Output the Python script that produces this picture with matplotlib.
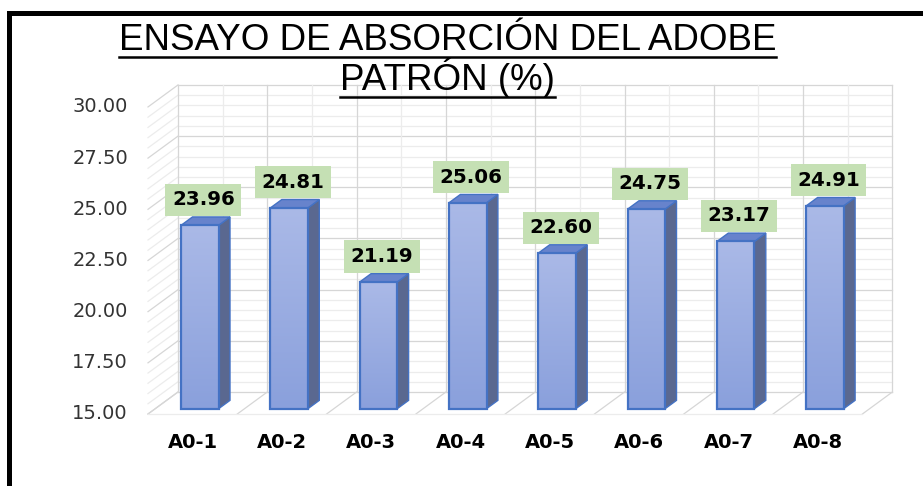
import matplotlib
matplotlib.use('Agg')
import numpy as np
import matplotlib.pyplot as plt
from matplotlib.patches import Polygon, Rectangle
from matplotlib.lines import Line2D
from matplotlib.colors import LinearSegmentedColormap

# --- DATA ---
categories = ['A0-1', 'A0-2', 'A0-3', 'A0-4', 'A0-5', 'A0-6', 'A0-7', 'A0-8']
absorcion = [23.96, 24.81, 21.19, 25.06, 22.60, 24.75, 23.17, 24.91]
y_ticks = [15.0, 17.5, 20.0, 22.5, 25.0, 27.5, 30.0]
title_lines = ['ENSAYO DE ABSORCIÓN DEL ADOBE', 'PATRÓN (%)']

Y_MIN, Y_MAX = 15.0, 30.0
DX, DY = 0.336, 1.075          # depth projection of the 3D floor (data units)
Z0, Z1 = 0.24, 0.62            # bar front / back depth
HALF_W = 0.21

FRONT_TOP, FRONT_BOT = '#aab9e7', '#8aa0dc'
SIDE_COL = '#5a6890'
TOP_COL = '#6783cc'
EDGE_COL = '#4472c4'
LABEL_BG = '#c5e0b4'
GRID_MAJOR, GRID_MINOR = '#d6d6d6', '#ececec'

fig = plt.figure(figsize=(9.23, 4.86), dpi=100, facecolor='white')
ax = fig.add_axes([0, 0, 1, 1])
ax.set_autoscale_on(False)
ax.set_xlim(-2.1573, 8.1786)
ax.set_ylim(11.4826, 35.2247)
ax.axis('off')

n = len(categories)
x_left, x_right = -0.5, n - 0.5

# --- walls / gridlines ---
grid_vals = np.arange(Y_MIN, Y_MAX + 0.01, 0.5)
for v in grid_vals:
    major = abs((v - Y_MIN) % 2.5) < 1e-6
    col = GRID_MAJOR if major else GRID_MINOR
    # back wall horizontal
    ax.plot([x_left + DX, x_right + DX], [v + DY, v + DY], color=col, lw=0.9, zorder=1)
    # side wall diagonal
    ax.plot([x_left, x_left + DX], [v, v + DY], color=col, lw=0.9, zorder=1)
for k in range(2 * n + 1):
    xv = x_left + DX + 0.5 * k
    ax.plot([xv, xv], [Y_MIN + DY, Y_MAX + DY], color=GRID_MINOR if k % 2 else GRID_MAJOR,
            lw=0.9, zorder=1)
for k in range(n + 1):
    xf = x_left + k
    ax.plot([xf, xf + DX], [Y_MIN, Y_MIN + DY], color=GRID_MAJOR, lw=0.9, zorder=1)
ax.plot([x_left, x_right], [Y_MIN, Y_MIN], color=GRID_MINOR, lw=0.9, zorder=1)

# --- 3D bars ---
cmap = LinearSegmentedColormap.from_list('bar', [FRONT_BOT, FRONT_TOP])
grad = np.linspace(0, 1, 100).reshape(-1, 1)
for i, val in enumerate(absorcion):
    xl = i - HALF_W + Z0 * DX
    xr = i + HALF_W + Z0 * DX
    vb = Y_MIN + Z0 * DY
    vt = val + Z0 * DY
    side = Polygon([(xr, vb), (xr + (Z1 - Z0) * DX, vb + (Z1 - Z0) * DY),
                    (xr + (Z1 - Z0) * DX, vt + (Z1 - Z0) * DY), (xr, vt)],
                   closed=True, facecolor=SIDE_COL, edgecolor=EDGE_COL, lw=1.0, zorder=3)
    ax.add_patch(side)
    top = Polygon([(xl, vt), (xr, vt), (xr + (Z1 - Z0) * DX, vt + (Z1 - Z0) * DY),
                   (xl + (Z1 - Z0) * DX, vt + (Z1 - Z0) * DY)],
                  closed=True, facecolor=TOP_COL, edgecolor=EDGE_COL, lw=1.0, zorder=3)
    ax.add_patch(top)
    front = Rectangle((xl, vb), xr - xl, vt - vb, facecolor='none', edgecolor=EDGE_COL,
                      lw=1.6, zorder=5)
    ax.add_patch(front)
    im = ax.imshow(grad, extent=[xl, xr, vb, vt], origin='lower', cmap=cmap,
                   aspect='auto', zorder=4, interpolation='bilinear')
    im.set_clip_path(front)

    ax.annotate(f'{val:.2f}', xy=(i + 0.12, val + Z1 * DY), xytext=(0, 5.5),
                textcoords='offset points', ha='center', va='bottom',
                fontsize=14.3, fontweight='bold', color='black', zorder=7,
                bbox=dict(boxstyle='square,pad=0.33', facecolor=LABEL_BG, edgecolor='none'))

# --- axis labels ---
for t in y_ticks:
    ax.text(-0.724, t, f'{t:.2f}', ha='right', va='center', fontsize=14, color='#333333')
for i, cat in enumerate(categories):
    ax.text(i, 13.63, cat, ha='center', va='center', fontsize=14, fontweight='bold',
            color='black')

# --- title with underline ---
title_baselines = [50, 90]
title_objs = []
for line, yb in zip(title_lines, title_baselines):
    t = fig.text(447.5 / 923, 1 - yb / 486, line, ha='center', va='baseline',
                 fontsize=26.5, family='Liberation Sans', color='black')
    title_objs.append(t)

fig.canvas.draw()
renderer = fig.canvas.get_renderer()
for t, yb in zip(title_objs, title_baselines):
    bb = t.get_window_extent(renderer)
    yu = 1 - (yb + 7) / 486
    fig.add_artist(Line2D([bb.x0 / 923, bb.x1 / 923], [yu, yu], color='black', lw=1.8,
                          transform=fig.transFigure))

# --- outer black frame (top and left) ---
fig.add_artist(Rectangle((7 / 923, (486 - 16) / 486), 1, 5 / 486, facecolor='black',
                         edgecolor='none', transform=fig.transFigure))
fig.add_artist(Rectangle((7 / 923, 0), 5 / 923, (486 - 11) / 486, facecolor='black',
                         edgecolor='none', transform=fig.transFigure))

fig.savefig('out.png', dpi=100, facecolor='white')
